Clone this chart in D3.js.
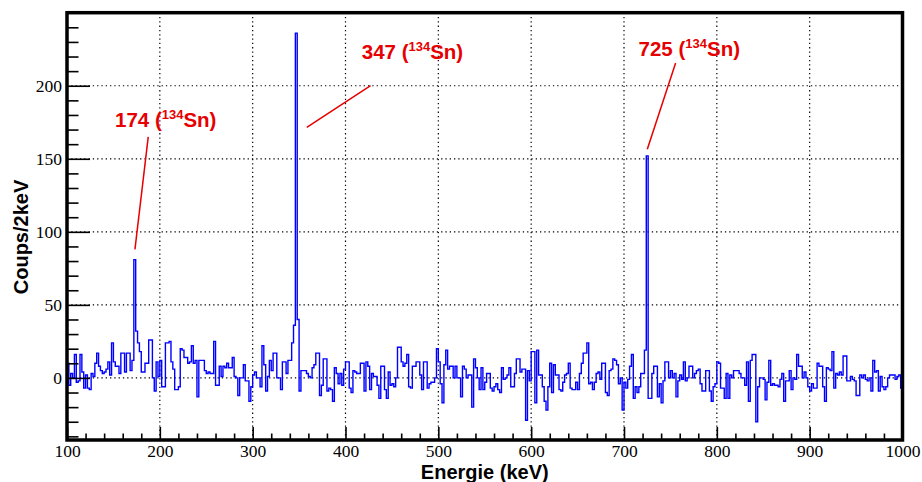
<!DOCTYPE html>
<html>
<head>
<meta charset="utf-8">
<script src="https://cdn.jsdelivr.net/npm/d3@7"></script>
<style>
  html, body { margin: 0; padding: 0; background: #fff; }
  svg { display: block; }
</style>
</head>
<body>
<svg id="chart" width="922" height="482"></svg>
<script>
// Spectrum: 2 keV bins from 100 to 1000 keV (450 bins), counts per bin
const binStart = 100;
const binWidth = 2;
const counts = [
  10, -5, 3, 0, 16, -3, -2, 16, 4, -7, 2, -7, -8, 3, 1, 10, 17, 8, 5, 3,
  4, 6, 11, 2, 24, 11, 8, 8, 3, 17, 17, 4, 17, 17, 5, 12, 81, 32, 24, 18,
  4, 4, 10, 10, 26, 26, 0, -9, 11, 1, 12, -6, -6, 24, 24, 25, 11, 6, -8, -8,
  -6, 20, 19, 14, 14, 10, 11, 22, 10, 12, -13, 12, 12, 12, 5, 3, 4, 3, 3, 25,
  -5, -5, 8, 1, 8, 7, 10, 7, 7, 14, 1, 0, -12, 0, 0, 9, -2, -2, -16, -6,
  2, 4, 0, 0, -6, 22, 9, -9, 1, 12, 5, 17, 17, 0, 0, -8, 11, 11, 3, 12,
  12, 24, 36, 236, 40, -9, 5, 5, 5, 3, 1, 0, 7, 9, 17, 17, -12, -5, 13, 13,
  -9, -7, -8, -16, 7, 3, -4, 3, -5, 6, 11, 11, -7, -10, 5, 4, 3, 3, 10, 10,
  -9, 11, 8, -8, 3, 1, 1, -5, -14, 8, 8, -8, -14, 4, -5, -4, -6, 0, 21, 21,
  11, 8, 10, 16, -6, -7, 8, 8, 11, 11, 2, -8, 11, 11, -7, -4, -3, -3, 0, 20,
  11, -4, -17, 9, 19, 6, 8, 8, 0, 8, 0, 0, -13, 8, 6, 0, 2, 2, -20, 13,
  7, 0, -8, 7, -8, -3, 3, 3, -7, -9, -6, -4, -8, -10, 7, -1, 0, 2, 7, -6,
  -6, 3, 13, 13, 4, 6, 6, -29, 5, -2, 18, 18, -17, 19, 2, 2, -6, -16, -22, -6,
  10, -10, 9, 2, 2, -8, -9, -3, 2, 3, 10, -7, -8, -8, -3, -8, 3, 10, 17, 17,
  24, -4, -3, -8, -3, 3, 4, -1, 10, 10, -10, -12, 5, 6, 13, 12, 9, -4, 0, -22,
  -3, -7, -1, 8, 16, -14, -6, -10, -6, 3, 3, 19, 152, -14, -14, 3, 8, 8, -13, -4,
  -17, -2, 11, 11, 0, 5, 0, 3, -13, -2, 2, -1, 11, -2, 0, 8, 8, 0, 3, 5,
  6, -4, -9, -9, 5, 5, -9, -16, -6, -4, 11, 10, -7, -7, -14, 3, -14, 2, 0, 5,
  5, 5, 3, 0, 0, -5, 11, -16, 12, 16, 16, -30, -6, 0, 0, -1, -15, -3, 12, -5,
  -4, -5, -5, -6, -1, 3, -16, -2, -2, 5, -8, 0, -1, 16, 8, 8, 0, 4, 0, -6,
  -9, -4, -7, -7, 10, 8, 8, -6, -16, 7, 6, 5, 18, -7, 3, 2, 4, 2, 15, 15,
  -2, -2, 1, -1, -2, -12, -12, 2, 0, 2, -1, -2, 0, -9, 12, 4, 5, -9, 1, -6,
  -8, -6, 0, 2, 2, 2, -1, 1, 2, -7
];

// Axis ticks
const xMajorTicks = [100, 200, 300, 400, 500, 600, 700, 800, 900, 1000];
const xMinorTicks = d3.range(100, 1001, 20).filter(v => v % 100 !== 0);
const yMajorTicks = [0, 50, 100, 150, 200];
const yMinorTicks = d3.range(-40, 250, 10).filter(v => v % 50 !== 0);

// Peak annotations
const peakLabels = ["174", "347", "725"];
const peakNuclide = ["134", "Sn"];

const svg = d3.select("#chart");
const plot = { left: 67, right: 902.5, top: 12.7, bottom: 440 };

const x = d3.scaleLinear().domain([100, 1000]).range([plot.left, plot.right]);
const y = d3.scaleLinear().domain([-42.5, 250]).range([plot.bottom, plot.top]);

// Dotted grid at major ticks
const grid = svg.append("g").attr("stroke", "#000").attr("stroke-width", 1.2)
  .attr("stroke-dasharray", "1.3,3");
grid.selectAll("line.gx").data(xMajorTicks.slice(1, -1)).join("line")
  .attr("x1", d => x(d)).attr("x2", d => x(d))
  .attr("y1", plot.top).attr("y2", plot.bottom);
grid.selectAll("line.gy").data(yMajorTicks).join("line")
  .attr("x1", plot.left).attr("x2", plot.right)
  .attr("y1", d => y(d)).attr("y2", d => y(d));

// Histogram drawn as a step line
const pts = counts.map((c, i) => [binStart + i * binWidth, c]);
pts.push([binStart + counts.length * binWidth, counts[counts.length - 1]]);
const step = d3.line().x(d => x(d[0])).y(d => y(d[1])).curve(d3.curveStepAfter);
svg.append("path").datum(pts)
  .attr("d", step)
  .attr("fill", "none")
  .attr("stroke", "#0000ff")
  .attr("stroke-width", 1.4)
  .attr("stroke-linejoin", "miter");

// Axes with inward ticks
const xAxisMajor = d3.axisBottom(x).tickValues(xMajorTicks).tickSizeInner(-13)
  .tickSizeOuter(0).tickPadding(5).tickFormat(d3.format("d"));
const xAxisMinor = d3.axisBottom(x).tickValues(xMinorTicks).tickSizeInner(-6.5)
  .tickSizeOuter(0).tickFormat("");
const yAxisMajor = d3.axisLeft(y).tickValues(yMajorTicks).tickSizeInner(-23)
  .tickSizeOuter(0).tickPadding(5).tickFormat(d3.format("d"));
const yAxisMinor = d3.axisLeft(y).tickValues(yMinorTicks).tickSizeInner(-11.5)
  .tickSizeOuter(0).tickFormat("");

function styleAxis(g) {
  g.select(".domain").remove();
  g.selectAll(".tick line").attr("stroke", "#000").attr("stroke-width", 1.6);
  g.selectAll(".tick text").attr("fill", "#000")
    .style("font-family", "'Liberation Serif', 'Times New Roman', serif")
    .style("font-size", "17.5px");
}
svg.append("g").attr("transform", `translate(0,${plot.bottom})`).call(xAxisMinor).call(styleAxis);
svg.append("g").attr("transform", `translate(0,${plot.bottom})`).call(xAxisMajor).call(styleAxis);
svg.append("g").attr("transform", `translate(${plot.left},0)`).call(yAxisMinor).call(styleAxis);
svg.append("g").attr("transform", `translate(${plot.left},0)`).call(yAxisMajor).call(styleAxis);

// Frame
svg.append("rect")
  .attr("x", plot.left).attr("y", plot.top)
  .attr("width", plot.right - plot.left).attr("height", plot.bottom - plot.top)
  .attr("fill", "none").attr("stroke", "#000").attr("stroke-width", 3.5);

// Axis titles
const titleFont = "'Liberation Sans', Arial, Helvetica, sans-serif";
svg.append("text")
  .attr("x", (plot.left + plot.right) / 2).attr("y", 479)
  .attr("text-anchor", "middle")
  .style("font-family", titleFont).style("font-weight", "bold").style("font-size", "20px")
  .text("Energie (keV)");
svg.append("text")
  .attr("transform", "translate(28,237) rotate(-90)")
  .attr("text-anchor", "middle")
  .style("font-family", titleFont).style("font-weight", "bold").style("font-size", "20px")
  .text("Coups/2keV");

// Peak annotations: label anchor and pointer line, in data units
const annotations = [
  { label: peakLabels[0], tx: 151.7, ty: 172, from: [173.2, 88], to: [187.5, 165] },
  { label: peakLabels[1], tx: 417.5, ty: 218, from: [358.3, 171.5], to: [427, 200] },
  { label: peakLabels[2], tx: 715.7, ty: 220.5, from: [725.1, 156.5], to: [755.6, 215.5] }
];
const red = "#e60000";
const ann = svg.append("g");
annotations.forEach(a => {
  ann.append("line")
    .attr("x1", x(a.from[0])).attr("y1", y(a.from[1]))
    .attr("x2", x(a.to[0])).attr("y2", y(a.to[1]))
    .attr("stroke", red).attr("stroke-width", 1.5);
  const t = ann.append("text")
    .attr("x", x(a.tx)).attr("y", y(a.ty))
    .attr("fill", red)
    .style("font-family", titleFont).style("font-weight", "bold").style("font-size", "20.5px");
  t.append("tspan").text(a.label + " (");
  t.append("tspan").attr("dy", -8).style("font-size", "13px").text(peakNuclide[0]);
  t.append("tspan").attr("dy", 8).text(peakNuclide[1] + ")");
});
</script>
</body>
</html>
